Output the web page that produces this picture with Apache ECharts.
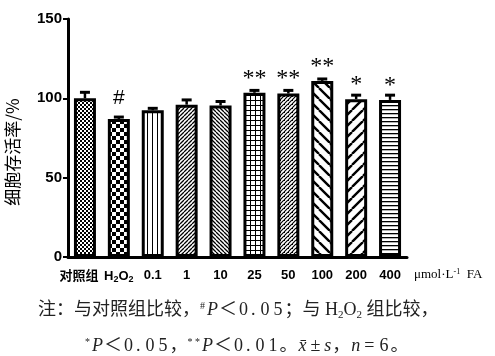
<!DOCTYPE html>
<html><head><meta charset="utf-8">
<script src="https://cdn.jsdelivr.net/npm/echarts@6/dist/echarts.min.js"></script>
<style>html,body{margin:0;padding:0;background:#fff}#c{width:495px;height:356px}</style>
</head><body><div id="c"></div>
<script>
const categories = ['对照组','H2O2','0.1','1','10','25','50','100','200','400'];
const means = [100, 87, 92.5, 96, 95.5, 103.5, 103, 111, 99.5, 99];
const sds = [3.8, 1.2, 1.2, 3, 2.5, 1.5, 2, 1.2, 2.5, 3];
const marks = ['', '#', '', '', '', '**', '**', '**', '*', '*'];
const yTicks = [0, 50, 100, 150];
const yTitle = '细胞存活率/%';
const unitLabel = 'μmol·L{sup|-1}  FA';

function tile(w, h, draw) {
  const c = document.createElement('canvas');
  c.width = w; c.height = h;
  const g = c.getContext('2d');
  g.fillStyle = '#fff'; g.fillRect(0, 0, w, h);
  g.fillStyle = '#000'; g.strokeStyle = '#000';
  draw(g, w, h);
  return { image: c, repeat: 'repeat' };
}
function diag(s, lw, dir) {
  return tile(s, s, (g) => {
    g.lineWidth = lw; g.beginPath();
    for (const k of [-s, 0, s]) {
      if (dir === '/') { g.moveTo(k, s); g.lineTo(k + s, 0); }
      else { g.moveTo(k, 0); g.lineTo(k + s, s); }
    }
    g.stroke();
  });
}
const patterns = [
  tile(4, 4, (g) => { g.fillRect(0, 0, 2, 2); g.fillRect(2, 2, 2, 2); }),
  tile(8, 8, (g) => { g.fillRect(0, 0, 4, 4); g.fillRect(4, 4, 4, 4); }),
  tile(5, 5, (g) => { g.fillRect(2, 0, 1, 5); }),
  diag(4, 1.3, '/'),
  diag(4, 1.3, '\\'),
  tile(5, 5, (g) => { g.fillRect(0, 0, 5, 1); g.fillRect(0, 0, 1, 5); }),
  tile(4, 4, (g) => {
    g.lineWidth = 1.2; g.beginPath();
    for (const k of [-4, 0, 4]) { g.moveTo(k, 4); g.lineTo(k + 4, 0); }
    g.stroke();
    g.fillRect(0, 0, 1, 1);
  }),
  diag(11, 2.4, '\\'),
  diag(11, 2.4, '/'),
  tile(4, 4, (g) => { g.fillRect(0, 1, 4, 1.3); })
];

function digits(s) {
  return s.split('').map(ch => ch === '.' ? '{p|.}' : '{d|' + ch + '}').join('');
}

const chart = echarts.init(document.getElementById('c'), null, { renderer: 'canvas' });
const tickFont = { fontFamily: 'Liberation Sans, Arial, sans-serif', fontWeight: 'bold', color: '#000' };
const capRich = {
  sup: { fontSize: 10, fontFamily: 'Liberation Serif', padding: [0, 1, 9, 0], color: '#222' },
  sub: { fontSize: 11, fontFamily: 'Liberation Serif', padding: [9, 0, 0, 0], color: '#222' },
  i: { fontSize: 18, fontStyle: 'italic', fontFamily: 'Liberation Serif', color: '#222', padding: [0, 1, 0, 1] },
  d: { fontSize: 18, fontFamily: 'Liberation Serif', padding: [0, 2, 0, 2], color: '#222' },
  p: { fontSize: 18, fontFamily: 'Liberation Serif', padding: [0, 3, 0, 1], color: '#222' },
  o: { fontSize: 18, fontFamily: 'Liberation Serif', padding: [0, 3, 0, 3], color: '#222' }
};
chart.setOption({
  animation: false,
  grid: { left: 68, right: 88, top: 19, bottom: 99, containLabel: false, outerBoundsMode: 'none' },
  xAxis: {
    type: 'category', data: categories,
    axisLine: { lineStyle: { color: '#000', width: 3 } },
    axisTick: { alignWithLabel: true, length: 6, lineStyle: { color: '#000', width: 2 } },
    axisLabel: {
      margin: 12, fontSize: 13, ...tickFont, interval: 0,
      formatter: (v) => v === 'H2O2' ? '{n|H}{s|2}{n|O}{s|2}' : (v === categories[0] ? '{c|' + v + '}' : v),
      rich: {
        n: { fontSize: 13, ...tickFont },
        s: { fontSize: 9, ...tickFont, verticalAlign: 'bottom', padding: [6, 0, 0, 0] },
        c: { fontSize: 13, fontFamily: 'Noto Sans CJK SC, sans-serif', fontWeight: 'bold', color: '#000', padding: [0, 12, 0, 0] }
      }
    }
  },
  yAxis: {
    type: 'value', min: yTicks[0], max: yTicks[yTicks.length - 1], interval: 50,
    splitLine: { show: false },
    axisLine: { show: true, lineStyle: { color: '#000', width: 3 } },
    axisTick: { show: true, length: 5, lineStyle: { color: '#000', width: 2 } },
    axisLabel: { margin: 6, fontSize: 15, ...tickFont }
  },
  series: [
    {
      type: 'bar', barWidth: 22,
      data: means.map((v, i) => ({
        value: v,
        itemStyle: { color: patterns[i], borderColor: '#000', borderWidth: 3 },
        label: { show: !!marks[i], formatter: marks[i], position: 'top',
          distance: marks[i] === '#' ? 10 : 2.5,
          fontSize: marks[i] === '#' ? 21 : 24,
          fontFamily: marks[i] === '#' ? 'Liberation Sans, sans-serif' : 'Liberation Serif, serif', color: '#000' }
      }))
    },
    {
      type: 'custom', z: 5,
      data: means.map((v, i) => [i, v, sds[i]]),
      renderItem: (params, api) => {
        const x = api.value(0), m = api.value(1), s = api.value(2);
        const p0 = api.coord([x, m]);
        const p1 = api.coord([x, m + s]);
        const hw = 5;
        return {
          type: 'group',
          children: [
            { type: 'line', shape: { x1: p0[0], y1: p0[1], x2: p1[0], y2: p1[1] }, style: { stroke: '#000', lineWidth: 2.5 } },
            { type: 'line', shape: { x1: p1[0] - hw, y1: p1[1], x2: p1[0] + hw, y2: p1[1] }, style: { stroke: '#000', lineWidth: 3 } }
          ]
        };
      }
    }
  ],
  graphic: [
    { type: 'text', x: 13, y: 152, rotation: Math.PI / 2, style: { text: yTitle, font: '17px "Noto Sans CJK SC", sans-serif', fill: '#000', align: 'center', verticalAlign: 'middle' } },
    { type: 'text', left: 414, top: 268, style: { text: unitLabel, font: '13px "Liberation Serif", serif', fill: '#000',
      rich: { sup: { fontSize: 8, fontFamily: 'Liberation Serif', verticalAlign: 'top', padding: [0, 0, 6, 0] } } } },
    { type: 'text', left: 38, top: 301, style: {
      text: '注：与对照组比较，{sup|#}{i|P}＜' + digits('0.05') + '；与 H{sub|2}O{sub|2} 组比较，',
      font: '18px "Liberation Serif", "Noto Sans CJK SC", serif', fill: '#222',
      rich: capRich } },
    { type: 'text', left: 85, top: 337, style: {
      text: '{sup|*}{i|P}＜' + digits('0.05') + '，{sup|* *}{i|P}＜' + digits('0.01') + '。{i|x̄}{o|±}{i|s}，{i|n}{o|=}{d|6}。',
      font: '18px "Liberation Serif", "Noto Sans CJK SC", serif', fill: '#222',
      rich: capRich } }
  ]
});
</script></body></html>
